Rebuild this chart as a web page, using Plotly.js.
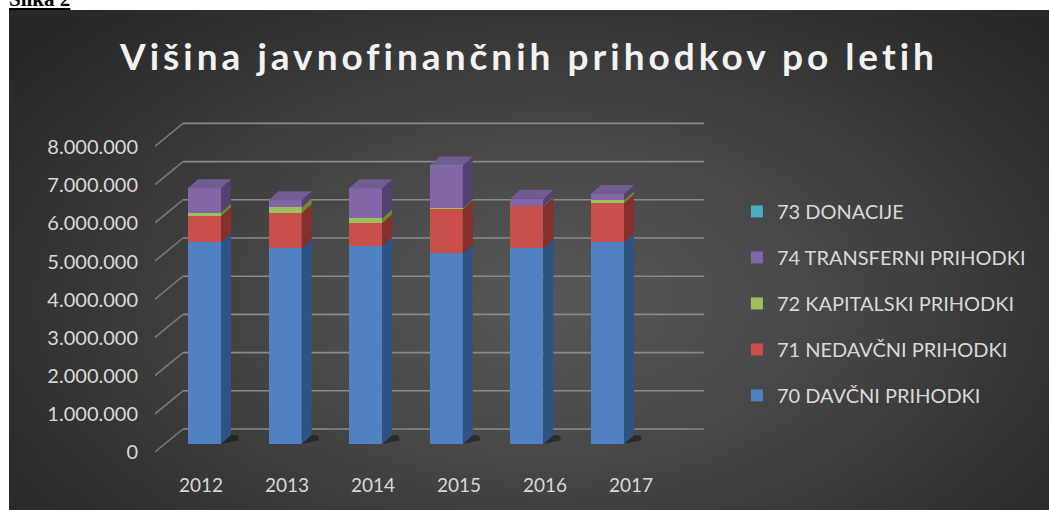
<!DOCTYPE html>
<html><head><meta charset="utf-8">
<script src="https://cdn.plot.ly/plotly-3.0.1.min.js"></script>
<style>
html,body{margin:0;padding:0;background:#fff;width:1049px;height:510px;overflow:hidden;position:relative}
#cap{position:absolute;left:9px;top:-13px;font:bold 21px "Liberation Serif",serif;color:#000;text-decoration:underline;line-height:24px}
#chart{position:absolute;left:9px;top:10px;width:1040px;height:500px;
 background:radial-gradient(ellipse 65% 80% at 52% 58%, #575757 0%, #4a4a4a 35%, #333 75%, #272727 100%);}
.gtitle{letter-spacing:4px}
</style></head><body>
<div id="cap">Slika 2</div>
<div id="chart"></div>
<script>
// ---- data ----
const years = [2012, 2013, 2014, 2015, 2016, 2017];
const davcni = [5280000, 5120000, 5180000, 4990000, 5120000, 5280000];
const nedavcni = [680000, 920000, 600000, 1150000, 1100000, 1020000];
const kapitalski = [100000, 160000, 130000, 30000, 20000, 80000];
const transferni = [630000, 180000, 780000, 1120000, 180000, 160000];
const donacije = [3000, 2000, 2000, 3000, 2000, 2000];
const yTickValues = [0, 1000000, 2000000, 3000000, 4000000, 5000000, 6000000, 7000000, 8000000];
const seriesNames = ['70 DAVČNI PRIHODKI', '71 NEDAVČNI PRIHODKI', '72 KAPITALSKI PRIHODKI', '74 TRANSFERNI PRIHODKI', '73 DONACIJE'];
const titleText = 'Višina javnofinančnih prihodkov po letih';

// ---- styles ----
const seriesValues = [davcni, nedavcni, kapitalski, transferni, donacije];
const frontColors = ['#4f81c3', '#c94f4b', '#9cc05a', '#8465a8', '#4bacc6'];
const sideColors  = ['#2f5383', '#86302d', '#6a8a30', '#544170', '#2f7f95'];
const topColors   = ['#6f96cc', '#d26a66', '#b3d27c', '#725d92', '#7cc4d8'];
const txt = '#d9d9d9';
const FONT = 'Lato, "Open Sans", sans-serif';

// geometry helpers (pixel -> axis units)
const PXX = 80.6, PXY = 38.2 / 1e6;
const barW = 0.41;
const dX = 10 / PXX, dY = 9 / PXY;          // bar depth
const gX = 28 / PXX;                          // floor depth (x)
const frontOff = -8 / PXY, backOff = 15 / PXY;
const xr0 = 2011.386, xr1 = xr0 + 550 / PXX;
const yr0 = -16 / PXY, yr1 = yr0 + 345 / PXY;

const traces = seriesNames.map((n, k) => ({
  type: 'bar', name: n, x: years, y: seriesValues[k], width: barW,
  marker: {color: frontColors[k], line: {width: 0}},
  legendgroup: 'g' + k, legendrank: 1000 - k, hoverinfo: 'skip'
}));
// invisible helper trace for the front plane axes (labels)
traces.push({type: 'scatter', x: years, y: years.map(() => 0), xaxis: 'x2', yaxis: 'y2',
  mode: 'markers', marker: {opacity: 0}, showlegend: false, hoverinfo: 'skip'});

const shapes = [];
yTickValues.forEach(v => {
  shapes.push({type: 'line', xref: 'x', yref: 'y', layer: 'below',
    x0: xr0 + gX, x1: xr1 - 0.01, y0: v + backOff, y1: v + backOff,
    line: {color: '#8a8a8a', width: 1.6}});
  shapes.push({type: 'line', xref: 'x', yref: 'y', layer: 'below',
    x0: xr0, x1: xr0 + gX, y0: v + frontOff, y1: v + backOff,
    line: {color: '#7a7a7a', width: 1.6}});
});
years.forEach((yr, i) => {
  const xl = yr - barW / 2, xr = yr + barW / 2;
  // base shadow
  shapes.push({type: 'path', xref: 'x', yref: 'y', layer: 'below',
    path: `M${xr},0 L${xr + 0.22},${0.1e6} L${xr + 0.2},${0.22e6} L${xr + dX},${dY} Z`,
    fillcolor: 'rgba(0,0,0,0.4)', line: {width: 0}});
  let cum = 0, topK = 0;
  seriesValues.forEach((vals, k) => {
    const yb = cum, yt = cum + vals[i];
    if (vals[i] > 0) {
      shapes.push({type: 'path', xref: 'x', yref: 'y', layer: 'above',
        path: `M${xr},${yb} L${xr + dX},${yb + dY} L${xr + dX},${yt + dY} L${xr},${yt} Z`,
        fillcolor: sideColors[k], line: {width: 0}});
    }
    if (vals[i] > 0.01 * 1e6) topK = k;
    cum = yt;
  });
  shapes.push({type: 'path', xref: 'x', yref: 'y', layer: 'above',
    path: `M${xl},${cum} L${xl + dX},${cum + dY} L${xr + dX},${cum + dY} L${xr},${cum} Z`,
    fillcolor: topColors[topK], line: {width: 0}});
});

const fmt = v => v.toString().replace(/\B(?=(\d{3})+(?!\d))/g, '.');

const layout = {
  width: 1040, height: 500,
  margin: {l: 146, r: 344, t: 105, b: 50},
  paper_bgcolor: 'rgba(0,0,0,0)', plot_bgcolor: 'rgba(0,0,0,0)',
  barmode: 'stack', showlegend: true,
  title: {text: titleText, x: 0.5, xref: 'container', xanchor: 'center',
    y: 0.905, yref: 'container', yanchor: 'middle',
    font: {family: FONT, size: 37, color: '#f2f2f2', weight: 700}},
  xaxis: {range: [xr0, xr1], showgrid: false, zeroline: false, showline: false,
    showticklabels: false, fixedrange: true},
  yaxis: {range: [yr0, yr1], showgrid: false, zeroline: false, showline: false,
    showticklabels: false, fixedrange: true},
  xaxis2: {overlaying: 'x', side: 'bottom', range: [2011.465, 2011.465 + 550 / 86],
    tickmode: 'array', tickvals: years, ticktext: years.map(String),
    showgrid: false, zeroline: false, showline: false, ticks: '', ticklabelstandoff: 12,
    tickfont: {family: FONT, size: 19, color: txt}},
  yaxis2: {overlaying: 'y', side: 'left', range: [-8 / (38.1 / 1e6), -8 / (38.1 / 1e6) + 345 / (38.1 / 1e6)],
    tickmode: 'array', tickvals: yTickValues, ticktext: yTickValues.map(fmt),
    showgrid: false, zeroline: false, showline: false, ticks: '', ticklabelstandoff: 16,
    tickfont: {family: FONT, size: 20, color: txt}},
  legend: {x: 1.058, xanchor: 'left', y: 0.777, yanchor: 'top', traceorder: 'grouped',
    tracegroupgap: 17, bgcolor: 'rgba(0,0,0,0)',
    font: {family: FONT, size: 20, color: txt}},
  shapes: shapes
};
Plotly.newPlot('chart', traces, layout, {displayModeBar: false, staticPlot: true});
</script>
</body></html>
